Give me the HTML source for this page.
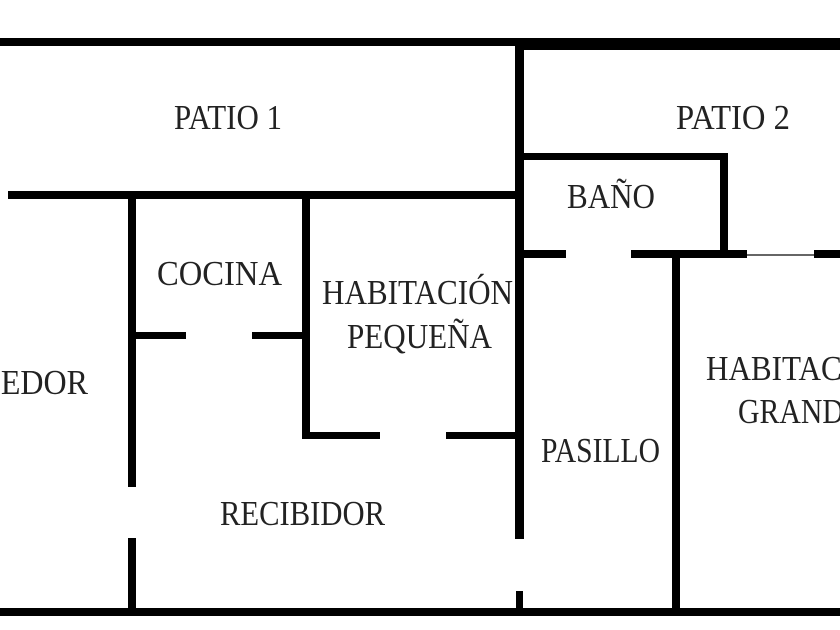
<!DOCTYPE html>
<html><head><meta charset="utf-8"><style>html,body{margin:0;padding:0;background:#fff;overflow:hidden}svg{display:block}</style></head>
<body>
<svg width="840" height="630" viewBox="0 0 840 630" xmlns="http://www.w3.org/2000/svg">
<rect width="840" height="630" fill="#fff"/>
<g fill="#000">
<rect x="0" y="38" width="520" height="8"/>
<rect x="515" y="38" width="325" height="12"/>
<rect x="515" y="38" width="9" height="501"/>
<rect x="516" y="591" width="7" height="22"/>
<rect x="8" y="191" width="516" height="8"/>
<rect x="128" y="191" width="8" height="296"/>
<rect x="128" y="538" width="8" height="75"/>
<rect x="302" y="191" width="8" height="248"/>
<rect x="136" y="332" width="50" height="7"/>
<rect x="252" y="332" width="52" height="7"/>
<rect x="304" y="432" width="76" height="7"/>
<rect x="446" y="432" width="74" height="7"/>
<rect x="520" y="153" width="208" height="7"/>
<rect x="720" y="153" width="8" height="103"/>
<rect x="524" y="250" width="42" height="8"/>
<rect x="631" y="250" width="116" height="8"/>
<rect x="747" y="254" width="67" height="2" fill="#666"/>
<rect x="814" y="250" width="26" height="8"/>
<rect x="672" y="250" width="8" height="363"/>
<rect x="0" y="608" width="840" height="8"/>
</g>
<g font-family="Liberation Serif, serif" font-size="35" fill="#222">
<text x="174" y="129" textLength="108" lengthAdjust="spacingAndGlyphs">PATIO 1</text>
<text x="676" y="129" textLength="114" lengthAdjust="spacingAndGlyphs">PATIO 2</text>
<text x="567" y="208" textLength="88" lengthAdjust="spacingAndGlyphs">BAÑO</text>
<text x="157" y="285" textLength="125" lengthAdjust="spacingAndGlyphs">COCINA</text>
<text x="322" y="304" textLength="191" lengthAdjust="spacingAndGlyphs">HABITACIÓN</text>
<text x="347" y="348" textLength="145" lengthAdjust="spacingAndGlyphs">PEQUEÑA</text>
<text x="-72" y="394" textLength="160" lengthAdjust="spacingAndGlyphs">COMEDOR</text>
<text x="706" y="380" textLength="191" lengthAdjust="spacingAndGlyphs">HABITACIÓN</text>
<text x="738" y="423" textLength="124" lengthAdjust="spacingAndGlyphs">GRANDE</text>
<text x="541" y="462" textLength="119" lengthAdjust="spacingAndGlyphs">PASILLO</text>
<text x="220" y="525" textLength="165" lengthAdjust="spacingAndGlyphs">RECIBIDOR</text>
</g>
</svg>
</body></html>
